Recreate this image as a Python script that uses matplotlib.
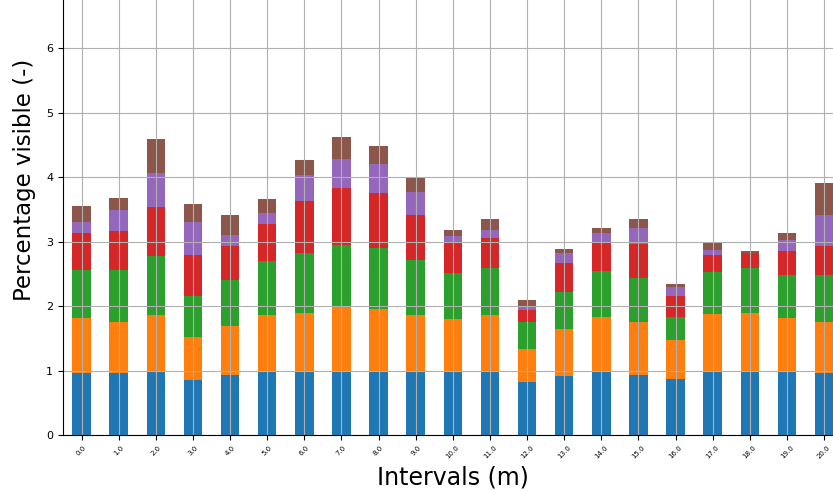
import numpy as np
import matplotlib.pyplot as plt

# interval positions (m)
intervals = [f"{x:.1f}" for x in np.arange(0, 21, 1.0)]

# stacked segments
s1 = [0.97, 0.97, 0.99, 0.86, 0.93, 0.99, 0.99, 0.99, 0.98, 0.98, 0.98,
      0.98, 0.82, 0.92, 0.99, 0.93, 0.87, 0.99, 0.99, 0.99, 0.97]
s2 = [0.85, 0.79, 0.88, 0.66, 0.76, 0.88, 0.90, 1.00, 0.97, 0.88, 0.82,
      0.88, 0.51, 0.73, 0.84, 0.82, 0.61, 0.89, 0.91, 0.82, 0.79]
s3 = [0.74, 0.80, 0.91, 0.64, 0.71, 0.83, 0.93, 0.96, 0.96, 0.86, 0.71,
      0.73, 0.42, 0.57, 0.71, 0.68, 0.35, 0.65, 0.69, 0.67, 0.72]
s4 = [0.58, 0.60, 0.76, 0.64, 0.54, 0.57, 0.81, 0.89, 0.84, 0.70, 0.47,
      0.47, 0.19, 0.45, 0.45, 0.54, 0.33, 0.26, 0.23, 0.38, 0.45]
s5 = [0.17, 0.33, 0.52, 0.50, 0.17, 0.18, 0.41, 0.45, 0.46, 0.35, 0.11,
      0.12, 0.06, 0.15, 0.15, 0.25, 0.14, 0.08, 0.00, 0.17, 0.49]
s6 = [0.25, 0.19, 0.54, 0.28, 0.30, 0.21, 0.23, 0.34, 0.28, 0.22, 0.09,
      0.17, 0.09, 0.06, 0.07, 0.13, 0.05, 0.12, 0.03, 0.11, 0.49]

series = [s1, s2, s3, s4, s5, s6]
colors = ['tab:blue', 'tab:orange', 'tab:green', 'tab:red', 'tab:purple', 'tab:brown']

fig = plt.figure(figsize=(8.33, 4.91), dpi=100)
# the axes run past the top and right edge, like in the cropped original
ax = fig.add_axes([0.0756, 0.114, 0.936, 0.912])

x = np.arange(len(intervals))
bottom = np.zeros(len(intervals))
for vals, c in zip(series, colors):
    ax.bar(x, vals, width=0.5, bottom=bottom, color=c)
    bottom += np.array(vals)

ax.set_xlim(-0.5, len(intervals) - 0.5)
ax.set_ylim(0, 6.95)
ax.set_xticks(x)
ax.set_xticklabels(intervals, rotation=45, fontsize=5)
ax.tick_params(axis='y', labelsize=8)
ax.grid(True)
ax.set_xlabel('Intervals (m)', fontsize=17)
ax.set_ylabel('Percentage visible (-)', fontsize=16.5)
ax.yaxis.set_label_coords(-0.035, 0.569)

fig.savefig('out.png', dpi=100)
